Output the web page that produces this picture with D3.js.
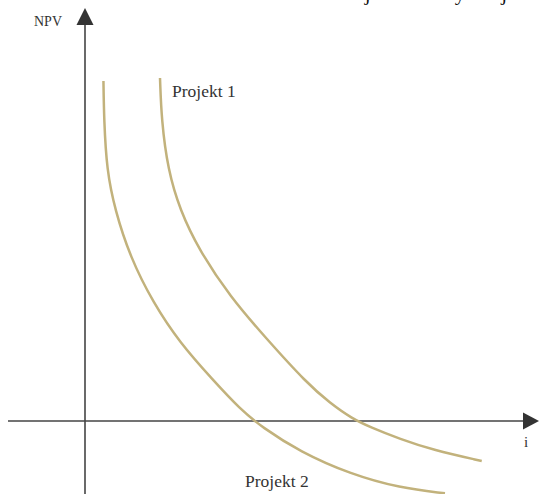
<!DOCTYPE html>
<html>
  <head>
    <meta charset="utf-8">
    <style>
      body { margin: 0; background: #fff; }
      text { font-family: 'Liberation Serif', 'Times New Roman', Times, serif; fill: #333; }
      .curve { fill: none; stroke: #c2b27c; stroke-width: 2.5; }
      .axis { stroke: #444; stroke-width: 1.6; }
    </style>
  </head>
  <body>
    <script src="https://d3js.org/d3.v7.min.js"></script>
    <script>
      // NPV profiles, i in %, NPV in arbitrary units
      const project1I   = [5.0, 5.1, 5.53, 6.33, 7.6, 9.67, 12.11, 14.78, 16.33, 17.8, 19.0, 21.0, 23.2, 26.45];
      const project1NPV = [85.75, 75.25, 62.75, 52.75, 42.75, 31.08, 20.5, 9.5, 4.5, 0.63, -1.5, -4.5, -7.25, -10];
      const project2I   = [1.23, 1.27, 1.45, 2.0, 3.0, 4.55, 6.33, 8.53, 10.33, 11.78, 14.33, 17.67, 21.0, 24.0];
      const project2NPV = [85, 75.25, 62.75, 52.75, 41.08, 29.5, 19.5, 10.25, 3.0, -1.5, -7.68, -13.25, -16.75, -18.08];
      const seriesNames = ['Projekt 1', 'Projekt 2'];

      const width = 541, height = 494;

      const svg = d3.select('body').append('svg')
        .attr('width', width)
        .attr('height', height);

      const xScale = d3.scaleLinear().domain([0, 30]).range([85, 535]);
      const yScale = d3.scaleLinear().domain([0, 100]).range([421, 21]);

      // clipped caption line at the very top
      svg.append('text')
        .attr('x', 150)
        .attr('y', 0)
        .style('font-size', '21px')
        .style('fill', '#111')
        .text('Porovnání NPV dvou vzájemně se vylučujících projektů');

      // axes
      const x0 = xScale(0), y0 = yScale(0);
      svg.append('line').attr('class', 'axis')
        .attr('x1', 8).attr('x2', 524)
        .attr('y1', y0).attr('y2', y0);
      svg.append('path')
        .attr('d', `M${539},${y0} L${523},${y0 - 8.5} L${523},${y0 + 8.5} Z`)
        .attr('fill', '#333');
      svg.append('line').attr('class', 'axis')
        .attr('x1', x0).attr('x2', x0)
        .attr('y1', height).attr('y2', 24);
      svg.append('path')
        .attr('d', `M${x0},8 L${x0 - 8.5},25 L${x0 + 8.5},25 Z`)
        .attr('fill', '#333');

      svg.append('text')
        .attr('x', 62).attr('y', 26)
        .attr('text-anchor', 'end')
        .style('font-size', '14px')
        .text('NPV');
      svg.append('text')
        .attr('x', 524).attr('y', 447)
        .style('font-size', '15px')
        .text('i');

      const line = d3.line()
        .x(d => xScale(d[0]))
        .y(d => yScale(d[1]))
        .curve(d3.curveBasis);

      const series = [
        d3.zip(project1I, project1NPV),
        d3.zip(project2I, project2NPV)
      ];

      svg.selectAll('path.curve')
        .data(series)
        .join('path')
        .attr('class', 'curve')
        .attr('d', line);

      // labels
      svg.append('text')
        .attr('x', xScale(project1I[0]) + 12)
        .attr('y', 97)
        .style('font-size', '17.5px')
        .text(seriesNames[0]);
      svg.append('text')
        .attr('x', 245)
        .attr('y', 487)
        .style('font-size', '17.5px')
        .text(seriesNames[1]);
    </script>
  </body>
</html>
